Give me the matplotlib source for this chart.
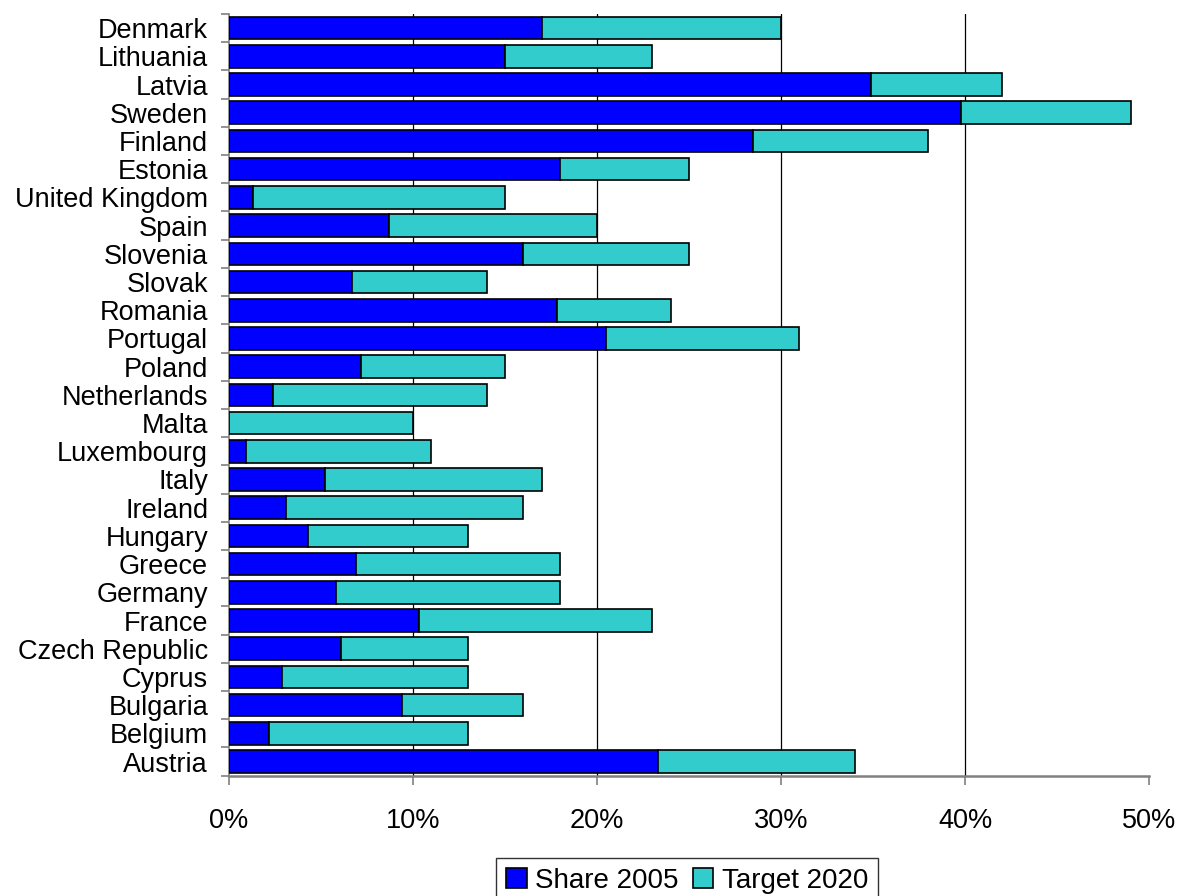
import matplotlib
matplotlib.use("Agg")
import matplotlib.pyplot as plt
import numpy as np
from matplotlib.ticker import FuncFormatter, FixedLocator

plt.rcParams['font.family'] = ['Liberation Sans', 'DejaVu Sans']

# top to bottom as in the chart
countries = ["Denmark", "Lithuania", "Latvia", "Sweden", "Finland", "Estonia",
             "United Kingdom", "Spain", "Slovenia", "Slovak", "Romania", "Portugal",
             "Poland", "Netherlands", "Malta", "Luxembourg", "Italy", "Ireland",
             "Hungary", "Greece", "Germany", "France", "Czech Republic", "Cyprus",
             "Bulgaria", "Belgium", "Austria"]
share_2005 = [17.0, 15.0, 34.9, 39.8, 28.5, 18.0,
              1.3, 8.7, 16.0, 6.7, 17.8, 20.5,
              7.2, 2.4, 0.0, 0.9, 5.2, 3.1,
              4.3, 6.9, 5.8, 10.3, 6.1, 2.9,
              9.4, 2.2, 23.3]
target_2020 = [30, 23, 42, 49, 38, 25,
               15, 20, 25, 14, 24, 31,
               15, 14, 10, 11, 17, 16,
               13, 18, 18, 23, 13, 13,
               16, 13, 34]
grid_at = [10, 20, 30, 40]

share = np.array(share_2005)
gap = np.array(target_2020) - share
y = np.arange(len(countries))[::-1]

fig = plt.figure(figsize=(11.82, 8.96), dpi=100)
ax = fig.add_axes([229 / 1182, 1 - 775.7 / 896, 920 / 1182, 761.7 / 896])

ax.barh(y, share, height=0.8, color="#0000FF", edgecolor="black", linewidth=1.2,
        label="Share 2005", zorder=3)
ax.barh(y, gap, left=share, height=0.8, color="#33CCCC", edgecolor="black",
        linewidth=1.2, label="Target 2020", zorder=3)

ax.set_xlim(0, 50)
ax.set_ylim(-0.5, len(countries) - 0.5)
ax.set_xticks(np.arange(0, 51, 10))
ax.xaxis.set_major_formatter(FuncFormatter(lambda v, p: f"{v:.0f}%"))
ax.set_yticks(y)
ax.set_yticklabels(countries)
ax.yaxis.set_minor_locator(FixedLocator(np.arange(-0.5, len(countries), 1)))

for g in grid_at:
    ax.axvline(g, color="black", linewidth=0.9, zorder=0)
for s in ["top", "right"]:
    ax.spines[s].set_visible(False)
ax.spines["left"].set_color("#808080")
ax.spines["bottom"].set_color("#808080")
ax.spines["left"].set_linewidth(1.2)
ax.spines["bottom"].set_linewidth(1.8)

ax.tick_params(axis="y", which="major", length=0, pad=15, labelsize=19.5)
ax.tick_params(axis="y", which="minor", length=6, width=1.2, color="#808080")
ax.tick_params(axis="x", which="major", length=6.5, width=1.2, color="#808080",
               pad=17, labelsize=19.5)

fig.legend(loc="upper center", bbox_to_anchor=(687 / 1182, 1 - 858 / 896),
           ncol=2, fontsize=20, frameon=True, fancybox=False, edgecolor="black",
           handlelength=0.75, handleheight=0.75, handletextpad=0.3, columnspacing=0.5,
           borderpad=0.35, borderaxespad=0)

fig.savefig("out.png", dpi=100)
